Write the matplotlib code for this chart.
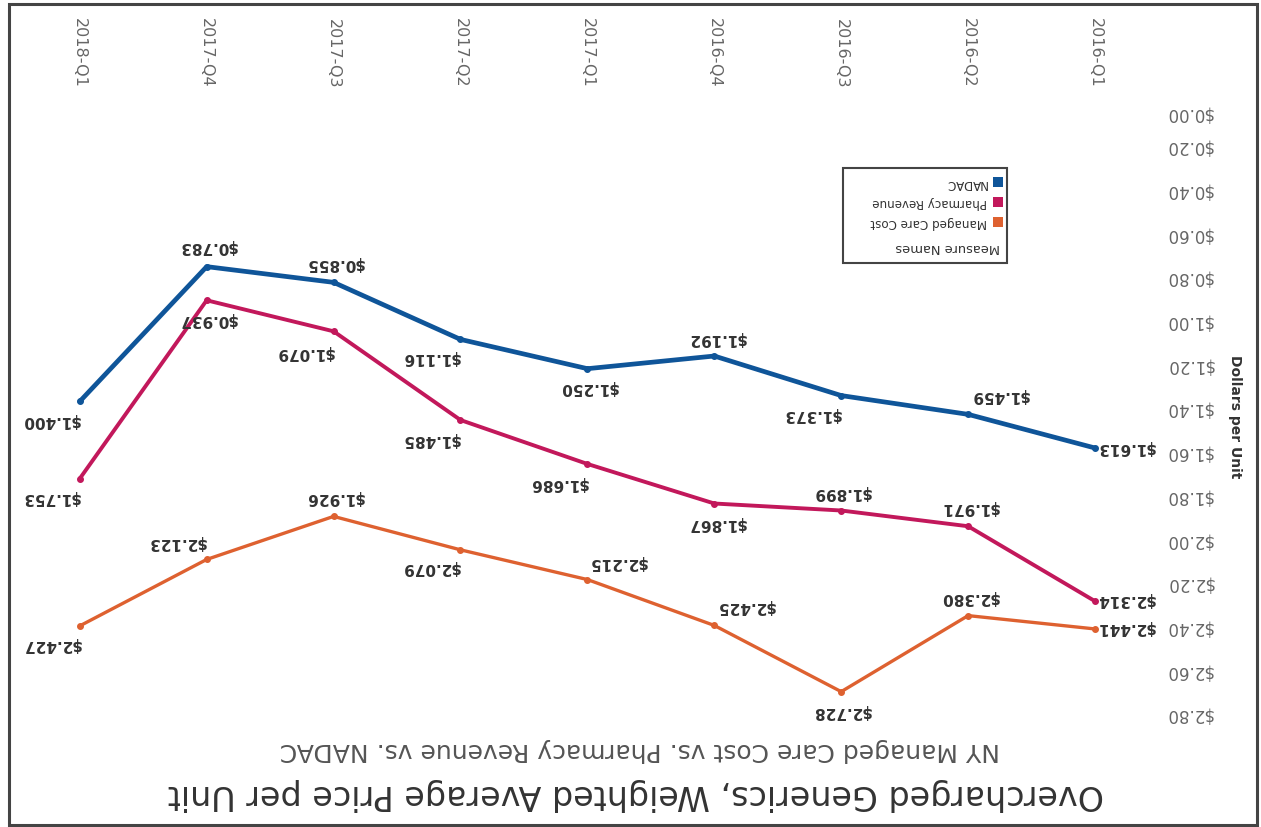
import matplotlib
matplotlib.use("Agg")
import matplotlib.pyplot as plt
from matplotlib.patches import Rectangle
from matplotlib.transforms import ScaledTranslation

plt.rcParams['font.family'] = ['DejaVu Sans']

# --- data (chronological order) ---
quarters = ['2016-Q1', '2016-Q2', '2016-Q3', '2016-Q4', '2017-Q1',
            '2017-Q2', '2017-Q3', '2017-Q4', '2018-Q1']
nadac = [1.613, 1.459, 1.373, 1.192, 1.250, 1.116, 0.855, 0.783, 1.400]
pharmacy_revenue = [2.314, 1.971, 1.899, 1.867, 1.686, 1.485, 1.079, 0.937, 1.753]
managed_care_cost = [2.441, 2.380, 2.728, 2.425, 2.215, 2.079, 1.926, 2.123, 2.427]
y_ticks = [0.0, 0.2, 0.4, 0.6, 0.8, 1.0, 1.2, 1.4, 1.6, 1.8, 2.0, 2.2, 2.4, 2.6, 2.8]

C_NADAC = '#0f5599'
C_PHARM = '#c2185b'
C_MCC = '#de6130'
C_TEXT = '#333333'
C_TICK = '#666666'

W, H = 1261, 828


def fx(px):
    return px / W


def fy(py):
    return 1 - py / H


fig = plt.figure(figsize=(W / 100, H / 100), dpi=100)
fig.patch.set_facecolor('white')

# axes placed in pixel terms; both axes inverted -> the page is upside down
ax = fig.add_axes([fx(20), fy(725), fx(1160) - fx(20), fy(95) - fy(725)])
ax.set_xlim(8.471, -0.512)
ax.set_ylim(2.876, -0.007)

# label offsets (pixels, image right / image down) for each point
offs_nadac = [(30, -2), (31, -20), (-30, 18), (2, -19), (1, 18),
              (-30, 17), (1, -20), (1, -21), (-29, 18)]
offs_pharm = [(30, -3), (1, -20), (0, -19), (2, 19), (-29, 19),
              (-30, 18), (-29, 20), (1, 18), (-29, 18)]
offs_mcc = [(30, -2), (1, -19), (0, 19), (31, -20), (30, -18),
            (-30, 17), (1, -20), (-30, -18), (-29, 18)]

series = [
    (managed_care_cost, C_MCC, 2.4, offs_mcc),
    (pharmacy_revenue, C_PHARM, 2.8, offs_pharm),
    (nadac, C_NADAC, 3.4, offs_nadac),
]
xs = list(range(len(quarters)))
for vals, col, lw, offs in series:
    ax.plot(xs, vals, color=col, lw=lw, marker='o', markersize=4,
            solid_joinstyle='round', solid_capstyle='round', zorder=3)
    for x, v, (dx, dy) in zip(xs, vals, offs):
        ax.annotate(f'${v:.3f}', xy=(x, v), xytext=(dx, -dy),
                    textcoords='offset pixels', rotation=180,
                    ha='center', va='center', fontsize=11,
                    fontweight='bold', color=C_TEXT, zorder=5)

# axes styling
for s in ax.spines.values():
    s.set_visible(False)
ax.xaxis.tick_top()
ax.set_xticks(xs)
ax.set_xticklabels(quarters, rotation=270, fontsize=11.5, color=C_TICK)
ax.tick_params(axis='x', length=0, pad=5)

ax.yaxis.tick_right()
ax.set_yticks(y_ticks)
ax.set_yticklabels([f'${t:.2f}' for t in y_ticks], rotation=180,
                   fontsize=12, color=C_TICK)
ax.tick_params(axis='y', length=0, pad=4)
for i, lab in enumerate(ax.get_yticklabels()):
    shift = -0.15 if i == 0 else -0.045
    lab.set_transform(lab.get_transform() + ScaledTranslation(0, shift, fig.dpi_scale_trans))

ax.yaxis.set_label_position('right')
ax.set_ylabel('Dollars per Unit', rotation=270, fontsize=10,
              fontweight='bold', color=C_TEXT)
ax.yaxis.set_label_coords(1.066, 0.49)
ax.yaxis.label.set_ha('center')
ax.yaxis.label.set_va('center')

# title and subtitle (upside down, at the bottom)
fig.text(fx(636), fy(795), 'Overcharged Generics, Weighted Average Price per Unit',
         rotation=180, ha='center', va='center', fontsize=24, color=C_TEXT)
fig.text(fx(640), fy(750), 'NY Managed Care Cost vs. Pharmacy Revenue vs. NADAC',
         rotation=180, ha='center', va='center', fontsize=18, color='#555555')

# legend, drawn by hand so it can be upside down too
fig.patches.append(Rectangle((fx(843), fy(264)), fx(1007) - fx(843), fy(169) - fy(264),
                             transform=fig.transFigure, facecolor='white',
                             edgecolor='#444444', lw=1.5, zorder=6))
legend_items = [('NADAC', C_NADAC, 183), ('Pharmacy Revenue', C_PHARM, 203),
                ('Managed Care Cost', C_MCC, 223)]
for name, col, py in legend_items:
    fig.patches.append(Rectangle((fx(993), fy(py + 5)), fx(10), 10 / H,
                                 transform=fig.transFigure, facecolor=col,
                                 edgecolor='none', zorder=7))
    fig.text(fx(987), fy(py), name, rotation=180, ha='right', va='center',
             fontsize=8.6, color=C_TEXT, zorder=7)
fig.text(fx(1000), fy(247), 'Measure Names', rotation=180, ha='right',
         va='center', fontsize=9.4, color=C_TEXT, zorder=7)

# page border
fig.patches.append(Rectangle((fx(9), fy(826)), fx(1257) - fx(9), fy(5) - fy(826),
                             transform=fig.transFigure, facecolor='none',
                             edgecolor='#444444', lw=2.2, zorder=8))

fig.savefig('out.png', dpi=100)
